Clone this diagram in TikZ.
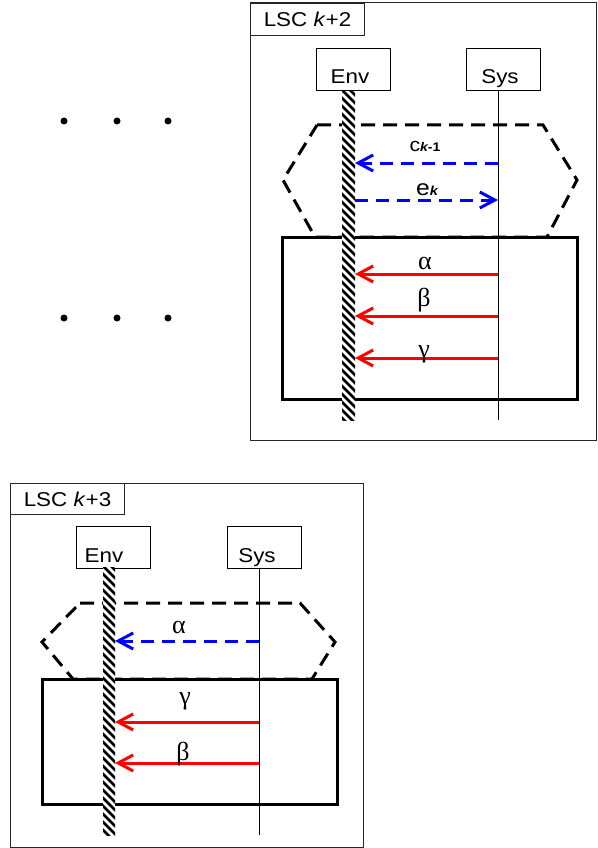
\documentclass[tikz,border=0pt]{standalone}
\usepackage{fontspec}
\setmainfont{Liberation Sans}[FakeStretch=1.12]
\newfontfamily\grkfont{Liberation Serif}
\usetikzlibrary{arrows.meta}
\newcommand\lscfont{\fontsize{20}{22}\selectfont}
\newcommand\insttext[3]{\raisebox{#2}[0pt][0pt]{\makebox[0pt]{\kern#1\relax #3\kern-#1\relax}}}
\begin{document}
\begin{tikzpicture}[x=1pt,y=-1pt,
  frame/.style={draw=black!85, line width=1pt},
  lbox/.style={draw=black!85, line width=1pt, inner sep=0, font=\lscfont, anchor=north west},
  inst/.style={draw, line width=1pt, minimum width=74pt, minimum height=42pt, inner sep=0, font=\lscfont},
  hexa/.style={line width=3pt, dash pattern=on 14pt off 8pt},
  pbox/.style={line width=3pt},
  hatchline/.style={line width=2.8pt},
  sysline/.style={line width=1pt},
  msg/.style={line width=3pt, -{Straight Barb[length=15pt,width=16pt]}},
  cold/.style={msg, blue, dash pattern=on 13pt off 8pt},
  hot/.style={msg, red},
  greek/.style={font=\grkfont\fontsize{26}{26}\selectfont, inner sep=0, anchor=base},
  msglab/.style={inner sep=0, anchor=base},
  dot/.style={circle, fill, inner sep=0, minimum size=7pt}
]
\useasboundingbox (0,0) rectangle (597,848);

% dots
\node[dot] (d1) at (64,121) {};
\node[dot] (d2) at (117,121) {};
\node[dot] (d3) at (168,121) {};
\node[dot] (d4) at (64,318) {};
\node[dot] (d5) at (117,318) {};
\node[dot] (d6) at (168,318) {};

% ===== LSC k+2 =====
\draw[frame] (250,3) rectangle (596,440);
\node[lbox, minimum width=114pt, minimum height=32pt] (lscA) at (250,3) {LSC \textit{k}+2};
\node[inst] (envA) at (353,69.5) {\insttext{-3pt}{-14.5pt}{Env}};
\node[inst] (sysA) at (503.5,69.5) {\insttext{-3.5pt}{-14.5pt}{Sys}};

\draw[hexa] (317,125) -- (543,125) -- (577,180) -- (547,237) -- (315,237) -- (283,180) -- cycle;
\draw[pbox] (282,237) rectangle (577,399);

% Env lifeline (hatched)
\begin{scope}
  \fill[white] (342,91) rectangle (355,420);
  \clip (342,91) rectangle (355,420);
  \foreach \yy in {72,80,...,424} \draw[hatchline] (340,\yy) -- (357,\yy+17);
\end{scope}
\draw[sysline] (498,0 |- sysA.south) -- (498,420);

\coordinate (sA1) at (498,163); \coordinate (eA1) at (355,163);
\coordinate (sA2) at (498,200); \coordinate (eA2) at (355,200);
\coordinate (sA3) at (498,274); \coordinate (eA3) at (355,274);
\coordinate (sA4) at (498,316); \coordinate (eA4) at (355,316);
\coordinate (sA5) at (498,358); \coordinate (eA5) at (355,358);

\draw[cold] (sA1) -- (eA1);
\draw[cold] (eA2) -- (sA2);
\draw[hot] (sA3) -- (eA3);
\draw[hot] (sA4) -- (eA4);
\draw[hot] (sA5) -- (eA5);

\node[msglab] (lA1) at (425,151) {\fontsize{19}{19}\selectfont c\fontsize{12.5}{12}\selectfont\bfseries\itshape k\upshape-1};
\node[msglab] (lA2) at (427,195) {\fontsize{22}{22}\selectfont e\fontsize{13}{13}\selectfont\bfseries\itshape k};
\node[greek] (lA3) at (425,269) {α};
\node[greek] (lA4) at (424,306) {β};
\node[greek] (lA5) at (424,357) {γ};

% ===== LSC k+3 =====
\draw[frame] (10,483) rectangle (363,847);
\node[lbox, minimum width=114pt, minimum height=31pt] (lscB) at (10,483) {LSC \textit{k}+3};
\node[inst] (envB) at (113,547) {\insttext{-9pt}{-15pt}{Env}};
\node[inst] (sysB) at (264,547) {\insttext{-7pt}{-15pt}{Sys}};

\draw[hexa] (80,603) -- (300,603) -- (335,642) -- (312,679) -- (73,679) -- (42,642) -- cycle;
\draw[pbox] (42,679) rectangle (337,804);

\begin{scope}
  \fill[white] (103,567) rectangle (115,835);
  \clip (103,567) rectangle (115,835);
  \foreach \yy in {548,556,...,840} \draw[hatchline] (101,\yy) -- (117,\yy+16);
\end{scope}
\draw[sysline] (259,0 |- sysB.south) -- (259,835);

\coordinate (sB1) at (259,641); \coordinate (eB1) at (115,641);
\coordinate (sB2) at (259,722); \coordinate (eB2) at (115,722);
\coordinate (sB3) at (259,763); \coordinate (eB3) at (115,763);

\draw[cold] (sB1) -- (eB1);
\draw[hot] (sB2) -- (eB2);
\draw[hot] (sB3) -- (eB3);

\node[greek] (lB1) at (179,633) {α};
\node[greek] (lB2) at (185,704) {γ};
\node[greek] (lB3) at (183,760) {β};
\end{tikzpicture}
\end{document}
